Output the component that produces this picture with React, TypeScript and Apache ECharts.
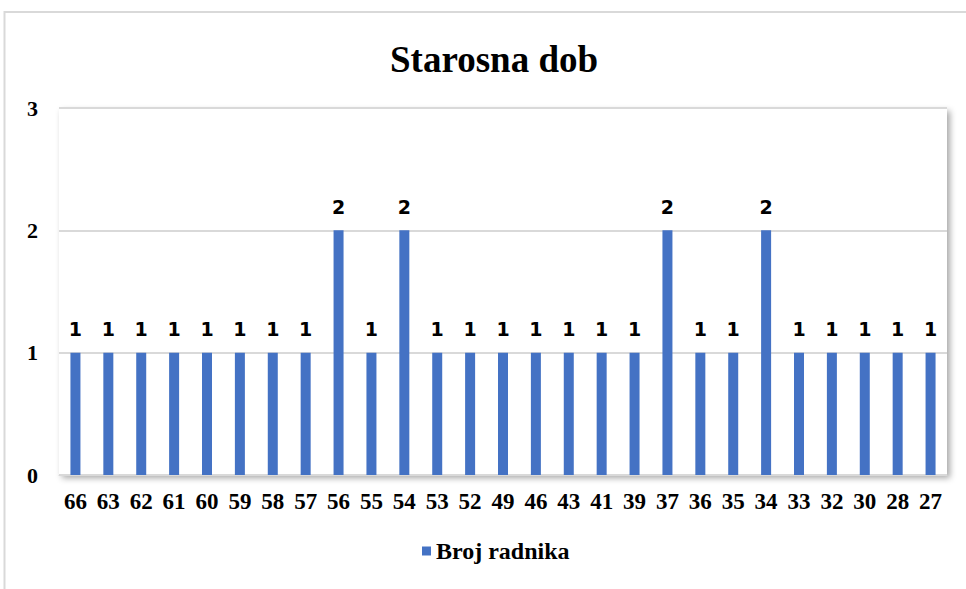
import React, { useEffect, useRef } from "react";
import * as echarts from "echarts";

const categories = ["66","63","62","61","60","59","58","57","56","55","54","53","52","49","46","43","41","39","37","36","35","34","33","32","30","28","27"];
const values = [1,1,1,1,1,1,1,1,2,1,2,1,1,1,1,1,1,1,2,1,1,2,1,1,1,1,1];
const yTicks = [0, 1, 2, 3];
const seriesName = "Broj radnika";
const title = "Starosna dob";

export default function App() {
  const ref = useRef<HTMLDivElement>(null);
  useEffect(() => {
    const chart = echarts.init(ref.current!, null, { renderer: "svg" });
    chart.setOption({
      animation: false,
      backgroundColor: "#ffffff",
      title: {
        text: title,
        left: 385,
        top: 36,
        textStyle: { fontFamily: "Liberation Serif", fontWeight: "bold", fontSize: 37, color: "#000" },
      },
      graphic: [
        {
          type: "rect",
          shape: { x: 4.5, y: 12, width: 1000, height: 700 },
          style: { fill: "none", stroke: "#d9d9d9", lineWidth: 2 },
          silent: true,
          z: -10,
        },
      ],
      legend: {
        bottom: 21,
        left: 417,
        itemWidth: 9,
        itemHeight: 9,
        itemGap: 6,
        icon: "rect",
        textStyle: { fontFamily: "Liberation Serif", fontWeight: "bold", fontSize: 24, color: "#000" },
        data: [seriesName],
      },
      grid: {
        left: 59,
        right: 19,
        top: 108,
        bottom: 114,
        show: true,
        backgroundColor: "#fff",
        borderWidth: 0,
        shadowBlur: 6,
        shadowColor: "rgba(0,0,0,0.35)",
        shadowOffsetX: 3,
        shadowOffsetY: 3,
      },
      xAxis: {
        type: "category",
        data: categories,
        axisTick: { show: false },
        axisLine: { show: true, lineStyle: { color: "#d9d9d9", width: 1 } },
        axisLabel: { fontFamily: "Liberation Serif", fontWeight: "bold", fontSize: 23, color: "#000", margin: 15, interval: 0 },
      },
      yAxis: {
        type: "value",
        min: yTicks[0],
        max: yTicks[yTicks.length - 1],
        interval: 1,
        axisLine: { show: false },
        axisTick: { show: false },
        splitLine: { lineStyle: { color: "#d9d9d9", width: 2 } },
        axisLabel: { fontFamily: "Liberation Serif", fontWeight: "bold", fontSize: 22, color: "#000", margin: 21 },
      },
      series: [
        {
          name: seriesName,
          type: "bar",
          data: values,
          barWidth: 10,
          itemStyle: { color: "#4472c4" },
          label: {
            show: true,
            position: "top",
            distance: 14,
            fontFamily: "DejaVu Sans",
            fontWeight: "bold",
            fontSize: 19,
            color: "#000",
          },
        },
      ],
    });
    return () => chart.dispose();
  }, []);
  return <div ref={ref} style={{ position: "absolute", left: 0, top: 0, width: 966, height: 589 }} />;
}
